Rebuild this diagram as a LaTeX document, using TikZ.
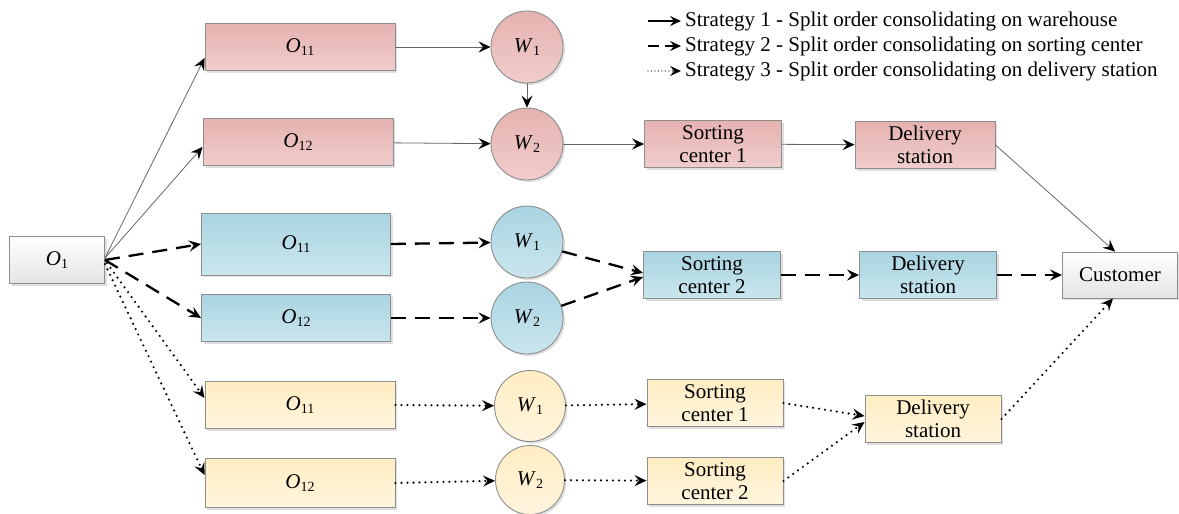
\documentclass[tikz,border=0pt]{standalone}
\usepackage{fontspec}
\setmainfont{Liberation Serif}
\usetikzlibrary{arrows.meta,shadows,calc}
\definecolor{rtop}{HTML}{E5B2B0}
\definecolor{rbot}{HTML}{F0CDCC}
\definecolor{btop}{HTML}{A9D4E1}
\definecolor{bbot}{HTML}{CAE6EE}
\definecolor{ytop}{HTML}{FFEDC2}
\definecolor{ybot}{HTML}{FFF5DE}
\definecolor{wbot}{HTML}{E4E4E4}
\definecolor{edge}{HTML}{8E8E8E}
\newcommand\idx[2]{\textit{#1}\raisebox{-0.35ex}{\fontsize{14}{14}\selectfont #2}}
\begin{document}
\begin{tikzpicture}[x=1pt,y=-1pt,
  base/.style={draw=edge,line width=0.9pt,inner sep=0pt,align=center,
    font=\fontsize{21}{22.5}\selectfont,
    drop shadow={opacity=0.25,shadow xshift=2pt,shadow yshift=-2pt}},
  rbox/.style={base,rectangle,top color=rtop,bottom color=rbot},
  bbox/.style={base,rectangle,top color=btop,bottom color=bbot},
  ybox/.style={base,rectangle,top color=ytop,bottom color=ybot},
  wbox/.style={base,rectangle,top color=white,bottom color=wbot},
  rcirc/.style={rbox,circle,minimum size=72pt},
  bcirc/.style={bbox,circle,minimum size=72pt},
  ycirc/.style={ybox,circle,minimum size=72pt},
  obox/.style={minimum width=190pt,minimum height=47pt},
  sbox/.style={minimum width=137pt,minimum height=47pt},
  tip/.style={-{Stealth[length=12pt,width=11pt,inset=4.5pt,color=black]}},
  sone/.style={tip,draw=black!60,line width=0.8pt},
  stwo/.style={tip,draw=black,line width=2.3pt,dash pattern=on 15pt off 9pt},
  sthree/.style={tip,draw=black,line width=2.4pt,line cap=round,dash pattern=on 0pt off 6pt},
  legend/.style={anchor=west,inner sep=0pt,font=\fontsize{21}{22}\selectfont}
]
\useasboundingbox (0,0) rectangle (1179,514);

% nodes
\node[wbox,minimum width=95pt,minimum height=47pt] (o1) at (57,260) {\idx{O}{1}};

\node[rbox,obox] (r11) at (300,47) {\idx{O}{11}};
\node[rbox,obox] (r12) at (298,142) {\idx{O}{12}};
\node[bbox,minimum width=189pt,minimum height=62pt] (b11) at (296,244) {\idx{O}{11}};
\node[bbox,minimum width=189pt,minimum height=47pt] (b12) at (296,318) {\idx{O}{12}};
\node[ybox,obox] (y11) at (300,405) {\idx{O}{11}};
\node[ybox,obox,minimum height=49pt] (y12) at (300,483) {\idx{O}{12}};

\node[rcirc] (rw1) at (527,47) {\idx{W}{1}};
\node[rcirc] (rw2) at (527,144) {\idx{W}{2}};
\node[bcirc] (bw1) at (527,242) {\idx{W}{1}};
\node[bcirc] (bw2) at (527,318) {\idx{W}{2}};
\node[ycirc,minimum size=71pt] (yw1) at (530,406) {\idx{W}{1}};
\node[ycirc,minimum size=69pt] (yw2) at (530,480) {\idx{W}{2}};

\node[rbox,sbox] (rsc) at (713,144) {Sorting\\center 1};
\node[bbox,sbox] (bsc) at (712,275) {Sorting\\center 2};
\node[ybox,sbox,minimum width=136pt] (ysc1) at (715,403) {Sorting\\center 1};
\node[ybox,sbox,minimum width=136pt] (ysc2) at (715,481) {Sorting\\center 2};

\node[rbox,sbox,minimum width=140pt] (rds) at (925,145) {Delivery\\station};
\node[bbox,sbox] (bds) at (928,275) {Delivery\\station};
\node[ybox,sbox,minimum width=136pt] (yds) at (933,419) {Delivery\\station};

\node[wbox,minimum width=115pt,minimum height=46pt] (cust) at (1120,275) {Customer};

% strategy 1
\draw[sone] ($(o1.east)+(0,-2)$) -- ($(r11.west)+(0,11)$);
\draw[sone] ($(o1.east)+(0,-2)$) -- ($(r12.west)+(0,5)$);
\draw[sone] (r11) -- (rw1);
\draw[sone] (r12) -- (rw2);
\draw[sone] (rw1) -- (rw2);
\draw[sone] (rw2) -- (rsc);
\draw[sone] (rsc) -- (rds);
\draw[sone] (rds.east) -- ($(cust.north)+(-5,0)$);

% strategy 2
\draw[stwo] (o1.east) -- (b11.west);
\draw[stwo] (o1.east) -- (b12.west);
\draw[stwo] (b11.east) -- (bw1);
\draw[stwo] (b12.east) -- (bw2);
\draw[stwo] (bw1) -- ($(bsc.west)+(0,-2)$);
\draw[stwo] (bw2) -- ($(bsc.west)+(0,2)$);
\draw[stwo] (bsc) -- (bds);
\draw[stwo] (bds) -- (cust);

% strategy 3
\draw[sthree] ($(o1.east)+(2,3)$) -- ($(y11.west)+(0,-7)$);
\draw[sthree] ($(o1.east)+(0,4)$) -- ($(y12.west)+(0,-8)$);
\draw[sthree] (y11.east) -- (yw1);
\draw[sthree] (y12.east) -- (yw2);
\draw[sthree] (yw1) -- (ysc1);
\draw[sthree] (yw2) -- (ysc2);
\draw[sthree] (ysc1.east) -- ($(yds.west)+(0,-3)$);
\draw[sthree] (ysc2.east) -- ($(yds.west)+(0,3)$);
\draw[sthree] (yds.east) -- ($(cust.south)+(-7,0)$);

% legend
\coordinate (l1a) at (648,21); \coordinate (l1b) at (681,21);
\coordinate (l2a) at (648,46); \coordinate (l2b) at (681,46);
\coordinate (l3a) at (648,71); \coordinate (l3b) at (681,71);
\draw[-{Stealth[length=11pt,width=10pt,inset=4pt]},line width=1.8pt] (l1a) -- (l1b);
\draw[-{Stealth[length=11pt,width=10pt,inset=4pt]},line width=1.8pt,dash pattern=on 11pt off 6pt] (l2a) -- (l2b);
\draw[-{Stealth[length=11pt,width=10pt,inset=4pt]},line width=1.4pt,line cap=round,dash pattern=on 0pt off 3.5pt] (l3a) -- (l3b);
\node[legend] (t1) at (685,21) {Strategy 1 - Split order consolidating on warehouse};
\node[legend] (t2) at (685,46) {Strategy 2 - Split order consolidating on sorting center};
\node[legend] (t3) at (685,71) {Strategy 3 - Split order consolidating on delivery station};
\end{tikzpicture}
\end{document}
